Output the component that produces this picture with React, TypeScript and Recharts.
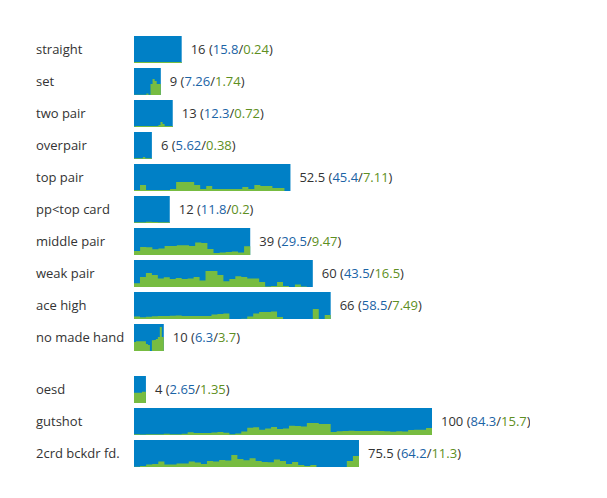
import React from 'react';
import { BarChart, Bar, XAxis, YAxis, LabelList } from 'recharts';

// ---- Data ----
const categoriesMade = ['straight', 'set', 'two pair', 'overpair', 'top pair', 'pp<top card', 'middle pair', 'weak pair', 'ace high', 'no made hand'];
const totalsMade = [16, 9, 13, 6, 52.5, 12, 39, 60, 66, 10];
const bluePartsMade = [15.8, 7.26, 12.3, 5.62, 45.4, 11.8, 29.5, 43.5, 58.5, 6.3];
const greenPartsMade = [0.24, 1.74, 0.72, 0.38, 7.11, 0.2, 9.47, 16.5, 7.49, 3.7];

const categoriesDraw = ['oesd', 'gutshot', '2crd bckdr fd.'];
const totalsDraw = [4, 100, 75.5];
const bluePartsDraw = [2.65, 84.3, 64.2];
const greenPartsDraw = [1.35, 15.7, 11.3];

// green distribution profiles inside each bar, read left->right, on a 0..27 scale
const PROFILE_MAX = 27;
const profileStraight = [1, 1, 1, 1, 1, 1, 1, 1];
const profileSet = [0.3, 0.3, 0.3, 0.3, 0.3, 0.3, 1.5, 0.3, 11, 16, 14, 11, 11];
const profileTwoPair = [0.7, 1, 1, 1, 1, 1, 1, 1, 1, 1, 1, 1, 2, 5, 3, 1, 1, 1, 1];
const profileOverpair = [0.7, 0.7, 0.7, 0.7, 2, 0.7, 0.7, 0.7];
const profileTopPair = [1, 6, 1, 1, 1, 1, 2, 9, 9, 9, 6, 2, 5, 2, 2, 2, 2, 2, 4, 2, 6, 5, 5, 3, 3, 0];
const profilePpTopCard = [0.7, 0.7, 1.2, 1, 0.7, 0.7];
const profileMiddlePair = [4, 8, 7.7, 5.7, 6.5, 9, 9, 9.7, 9.7, 9, 12.5, 12, 6, 2, 2.5, 3, 3.5, 2.5, 8.7];
const profileWeakPair = [3.8, 10, 14, 12, 8.5, 9.7, 8, 9, 8, 8.5, 10, 6.5, 16, 16, 12, 5.7, 8, 10.7, 10, 8.5, 8.5, 5, 0.5, 1, 5, 1, 0, 2.5, 0.5, 0];
const profileAceHigh = [2.5, 1.7, 2.3, 2.8, 3, 3, 3.3, 3.5, 3, 3, 3, 3, 3, 4.5, 5, 5.5, 0, 0, 0.3, 2.5, 5.5, 7, 7, 7.5, 2, 0, 0, 0, 0, 0, 10, 0, 4];
const profileNoMadeHand = [9, 9.7, 9.7, 9.7, 9.7, 9.7, 7, 6, 0, 10.7, 11, 12, 14, 24, 14];
const profileOesd = [10.3, 10.3, 11.3];
const profileGutshot = [0.7, 0.4, 0.7, 0.7, 0.8, 1.3, 0.7, 0.7, 1.2, 2.7, 2, 2, 2, 2.5, 3, 2.3, 0.7, 1.5, 3.5, 7.3, 7.7, 5.3, 6.5, 8, 6, 6.5, 9.2, 9, 8.5, 12, 12, 11, 11, 3, 3.8, 4, 4.2, 4, 4, 4, 4.2, 4, 3.7, 3.3, 3.7, 3.5, 5, 5.3, 5.3, 7];
const profile2crd = [0.3, 1, 2.5, 3, 5.5, 2.5, 2.5, 3.5, 3.5, 5.5, 4.5, 3, 6, 5.5, 7, 6.5, 12, 8, 6.7, 8.7, 6, 5, 4.7, 7.5, 6, 3, 5, 2, 1, 2, 0, 0, 0, 0, 0, 6, 11];

const profilesMade = [profileStraight, profileSet, profileTwoPair, profileOverpair, profileTopPair, profilePpTopCard, profileMiddlePair, profileWeakPair, profileAceHigh, profileNoMadeHand];
const profilesDraw = [profileOesd, profileGutshot, profile2crd];

// ---- Styles ----
const BLUE = '#0080C6';
const GREEN = '#77BC41';
const TEXT = '#333333';
const BLUE_TEXT = '#1B64A6';
const GREEN_TEXT = '#5E8F22';
const FONT = '"Open Sans", "Noto Sans", sans-serif';
const FONT_SIZE = 13;

type Row = { name: string; total: number; blue: number; green: number; profile: number[] };

const buildRows = (cats: string[], totals: number[], blues: number[], greens: number[], profiles: number[][]): Row[] =>
  cats.map((name, i) => ({ name, total: totals[i], blue: blues[i], green: greens[i], profile: profiles[i] }));

const rowsMade = buildRows(categoriesMade, totalsMade, bluePartsMade, greenPartsMade, profilesMade);
const rowsDraw = buildRows(categoriesDraw, totalsDraw, bluePartsDraw, greenPartsDraw, profilesDraw);

const ProfileBar = (props: any) => {
  const { x, y, width, height, payload } = props;
  if (!width || width <= 0) return null;
  const prof: number[] = payload.profile || [];
  const n = prof.length;
  const seg = width / n;
  const bottom = y + height;
  let d = `M${x},${bottom}`;
  prof.forEach((v, i) => {
    const top = bottom - (v / PROFILE_MAX) * height;
    d += ` L${x + i * seg},${top} L${x + (i + 1) * seg},${top}`;
  });
  d += ` L${x + width},${bottom} Z`;
  return (
    <g>
      <rect x={x} y={y} width={width} height={height} fill={BLUE} />
      <path d={d} fill={GREEN} />
    </g>
  );
};

const makeLabel = (rows: Row[]) => (props: any) => {
  const { x, y, width, height, index, value } = props;
  const row = rows[index] ?? rows.find((r) => r.total === value);
  if (!row) return null;
  return (
    <text x={x + width + 9} y={y + height / 2} dy="0.35em" fontFamily={FONT} fontSize={FONT_SIZE} fill={TEXT}>
      <tspan>{`${row.total} (`}</tspan>
      <tspan fill={BLUE_TEXT}>{String(row.blue)}</tspan>
      <tspan>/</tspan>
      <tspan fill={GREEN_TEXT}>{String(row.green)}</tspan>
      <tspan>)</tspan>
    </text>
  );
};

const CategoryTick = (props: any) => {
  const { y, payload } = props;
  return (
    <text x={28} y={y} dy="0.35em" textAnchor="start" fontFamily={FONT} fontSize={FONT_SIZE} fill={TEXT}>
      {payload.value}
    </text>
  );
};

const CHART_WIDTH = 522;

const Section = ({ rows, height, top, bottom }: { rows: Row[]; height: number; top: number; bottom: number }) => (
  <BarChart
    width={CHART_WIDTH}
    height={height}
    data={rows}
    layout="vertical"
    margin={{ top, right: 98, bottom, left: 0 }}
    barCategoryGap={0}
  >
    <XAxis type="number" domain={[0, 100]} hide />
    <YAxis type="category" dataKey="name" width={126} axisLine={false} tickLine={false} tick={<CategoryTick />} interval={0} />
    <Bar dataKey="total" barSize={27} shape={<ProfileBar />} isAnimationActive={false}>
      <LabelList dataKey="total" content={makeLabel(rows)} />
    </Bar>
  </BarChart>
);

export default function App() {
  return (
    <div style={{ width: CHART_WIDTH }}>
      <Section rows={rowsMade} height={345} top={25} bottom={0} />
      <Section rows={rowsDraw} height={121} top={20} bottom={5} />
    </div>
  );
}
